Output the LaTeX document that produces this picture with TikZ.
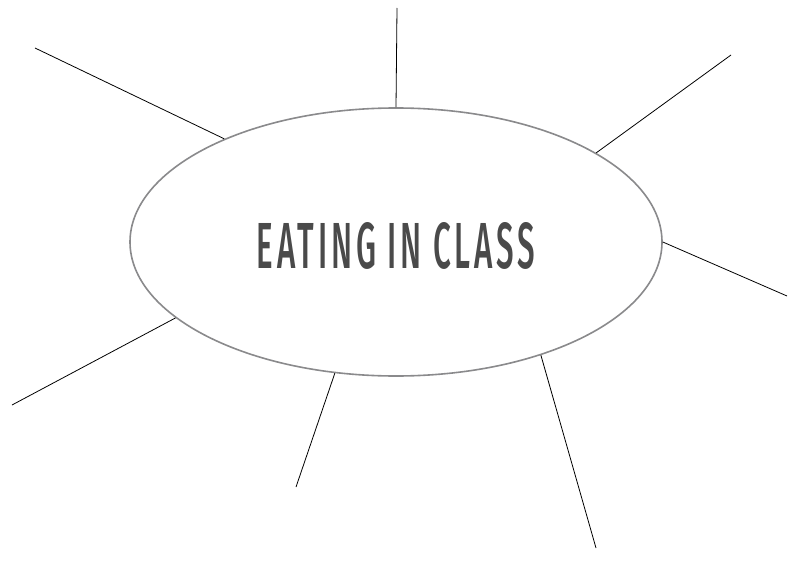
\documentclass[tikz,border=0pt]{standalone}
\usepackage{fontspec}
\usepackage{graphicx}
\usepackage{xcolor}
\usepackage{tikz}
\usetikzlibrary{shapes.geometric, positioning}
\newfontfamily\labelfont[UprightFont=* Medium, LetterSpace=12]{Fira Sans}
\definecolor{rimgray}{RGB}{138,138,140}
\definecolor{textgray}{RGB}{74,74,74}

\begin{document}
\begin{tikzpicture}[
  x=1pt, y=-1pt,
  topic/.style={ellipse, draw=rimgray, line width=1.6pt, fill=white,
                minimum width=532pt, minimum height=268pt, inner sep=0pt,
                text=textgray},
  spoke/.style={draw=black, line width=0.8pt},
]
\useasboundingbox (0,0) rectangle (789,575);

% --- Centre topic ---
\node[topic] (eat) at (396,242) {};
\node[text=textgray, inner sep=0pt] (eattext) at (396,246)
  {\resizebox{278pt}{46pt}{\labelfont EATING IN CLASS}};

% --- Free ends of the spokes ---
\coordinate (ul) at (35,48);
\coordinate (up) at (397,8);
\coordinate (ur) at (731,55);
\coordinate (rt) at (787,296);
\coordinate (ll) at (12,405);
\coordinate (dn) at (296,487);
\coordinate (lr) at (596,548);

\draw[spoke] (ul) -- (eat.149);
\draw[spoke] (up) -- (eat.90);
\draw[spoke] (ur) -- (eat.24.5);
\draw[spoke] (rt) -- (eat.0);
\draw[spoke] (ll) -- (eat.199.7);
\draw[spoke] (dn) -- (eat.245.2);
\draw[spoke] (lr) -- (eat.322.2);
\end{tikzpicture}
\end{document}
